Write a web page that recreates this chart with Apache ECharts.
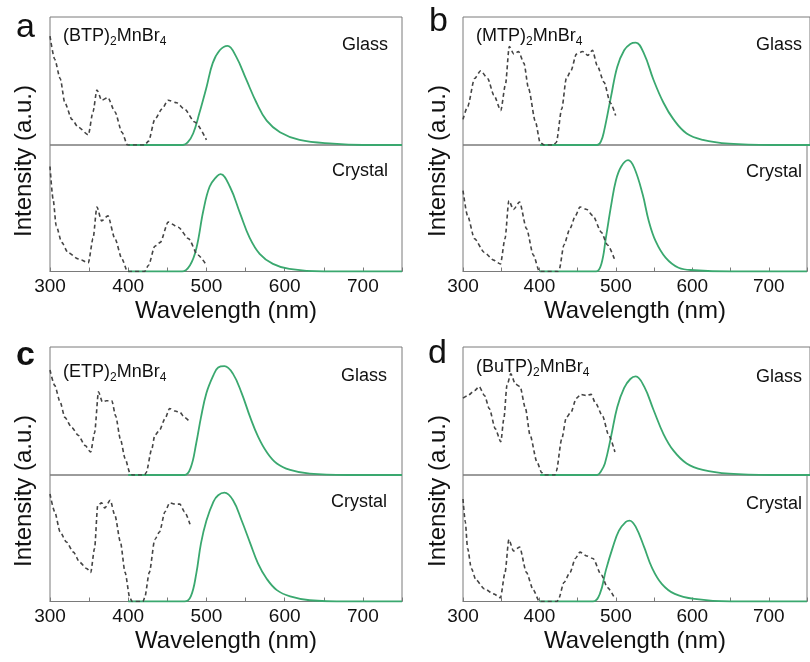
<!DOCTYPE html>
<html>
<head>
<meta charset="utf-8">
<script src="https://cdn.jsdelivr.net/npm/echarts@6/dist/echarts.min.js"></script>
<style>
  html, body { margin: 0; padding: 0; background: #fff; overflow: hidden; }
  #main { width: 810px; height: 662px; }
</style>
</head>
<body>
<div id="main"></div>
<script>
// wavelength (nm) / normalised intensity
// excitation (dashed) and emission (green) for every sample

// a: (BTP)2MnBr4
const aGlassPLE = [[300,.85],[306,.67],[313,.52],[319,.33],[328,.20],[336,.14],[349,.08],[355,.26],[360,.43],[366,.35],[374,.37],[383,.26],[392,.10],[399,0],[421,0],[426,.03],[434,.20],[443,.28],[451,.35],[462,.33],[472,.28],[485,.18],[500,.04]]
const aGlassPL = [[400,0],[470,0],[476,.02],[483,.09],[491,.25],[500,.45],[508,.64],[517,.74],[527,.775],[538,.69],[551,.51],[564,.33],[577,.19],[594,.10],[619,.04],[662,.01],[700,0],[750,0]]
const aCrystalPLE = [[300,.83],[304,.57],[308,.36],[315,.23],[323,.15],[336,.10],[349,.07],[355,.26],[360,.51],[366,.40],[374,.44],[383,.26],[392,.10],[399,0],[421,0],[426,.05],[434,.20],[441,.23],[451,.39],[464,.35],[477,.26],[489,.13],[500,.05]]
const aCrystalPL = [[400,0],[469,0],[479,.05],[487,.18],[496,.48],[504,.67],[513,.75],[518,.77],[530,.67],[543,.46],[555,.27],[568,.14],[585,.06],[606,.02],[650,0],[750,0]]

// b: (MTP)2MnBr4
const bGlassPLE = [[300,.20],[306,.30],[315,.52],[323,.58],[332,.52],[340,.39],[349,.27],[355,.47],[360,.77],[366,.71],[372,.73],[379,.64],[385,.44],[394,.18],[400,.02],[405,0],[417,0],[421,.02],[428,.28],[434,.52],[440,.58],[447,.71],[455,.73],[462,.70],[468,.74],[474,.62],[483,.49],[491,.33],[498,.23]]
const bGlassPL = [[400,0],[474,0],[479,.03],[483,.11],[492,.38],[500,.61],[509,.74],[517,.79],[524,.80],[535,.71],[547,.51],[560,.33],[573,.20],[590,.09],[611,.04],[645,.01],[700,0],[750,0]]
const bCrystalPLE = [[300,.64],[306,.44],[315,.26],[328,.15],[340,.09],[349,.06],[355,.26],[360,.56],[366,.49],[374,.55],[383,.34],[392,.13],[400,0],[424,0],[426,.02],[432,.21],[440,.34],[447,.44],[453,.51],[462,.49],[470,.44],[481,.31],[489,.21],[498,.10]]
const bCrystalPL = [[400,0],[474,0],[481,.06],[487,.27],[494,.53],[500,.72],[507,.83],[516,.88],[524,.82],[535,.61],[543,.40],[552,.24],[565,.11],[582,.03],[603,.01],[650,0],[750,0]]

// c: (ETP)2MnBr4
const cGlassPLE = [[300,.82],[306,.70],[313,.57],[319,.45],[328,.37],[336,.31],[345,.23],[352,.18],[357,.33],[362,.65],[367,.57],[372,.58],[379,.58],[384,.46],[390,.28],[396,.13],[402,.02],[405,0],[421,0],[423,.02],[430,.20],[434,.31],[440,.35],[447,.44],[453,.52],[460,.50],[466,.49],[472,.45],[478,.42]]
const cGlassPL = [[400,0],[472,0],[480,.06],[487,.25],[493,.45],[500,.64],[509,.78],[515,.84],[523,.85],[534,.79],[545,.64],[556,.45],[566,.30],[577,.18],[590,.09],[607,.04],[632,.01],[680,0],[750,0]]
const cCrystalPLE = [[300,.85],[306,.71],[313,.55],[321,.47],[330,.39],[338,.31],[347,.26],[352,.23],[357,.42],[361,.76],[366,.78],[370,.74],[377,.80],[383,.68],[390,.47],[396,.23],[402,.03],[405,0],[419,0],[421,.03],[427,.23],[434,.49],[440,.55],[447,.71],[453,.78],[460,.77],[466,.77],[472,.71],[479,.61]]
const cCrystalPL = [[400,0],[472,0],[480,.04],[487,.22],[493,.46],[500,.64],[509,.79],[515,.84],[523,.86],[534,.80],[545,.64],[556,.46],[566,.30],[577,.18],[590,.09],[607,.04],[632,.01],[680,0],[750,0]]

// d: (BuTP)2MnBr4
const dGlassPLE = [[300,.60],[306,.62],[315,.66],[321,.69],[328,.62],[334,.52],[342,.36],[349,.26],[353,.44],[357,.70],[362,.79],[368,.71],[374,.69],[381,.52],[387,.31],[396,.10],[402,.02],[405,0],[419,0],[421,.03],[428,.28],[434,.45],[440,.49],[447,.60],[453,.63],[460,.62],[466,.63],[472,.56],[481,.46],[489,.31],[497,.18]]
const dGlassPL = [[400,0],[474,0],[479,.03],[484,.09],[492,.30],[500,.53],[509,.68],[517,.75],[524,.77],[535,.69],[547,.51],[560,.32],[573,.19],[590,.09],[611,.04],[645,.01],[700,0],[750,0]]
const dCrystalPLE = [[300,.81],[303,.63],[306,.42],[311,.26],[317,.17],[328,.10],[340,.06],[349,.03],[355,.23],[360,.49],[366,.40],[374,.43],[383,.23],[392,.09],[400,0],[423,0],[425,.02],[432,.15],[440,.23],[447,.34],[453,.39],[462,.36],[470,.34],[481,.21],[489,.11],[498,.03]]
const dCrystalPL = [[400,0],[470,0],[479,.06],[487,.25],[496,.43],[504,.56],[513,.63],[518,.64],[526,.59],[537,.43],[547,.27],[560,.14],[577,.06],[603,.02],[650,0],[750,0]]

const sampleNames = ['BTP', 'MTP', 'ETP', 'BuTP']
const panelLetters = ['a', 'b', 'c', 'd']
const phaseNames = ['Glass', 'Crystal']
const wlMin = 300, wlMax = 750

const FONT = '"Liberation Sans", Arial, sans-serif'
const FRAME = '#7a7a7a'
const GREEN = '#3aa86f'
const DASH = '#444'

// layout of the four panels (pixels)
const panels = [
    { left: 50,  top: 17,  ple: [aGlassPLE, aCrystalPLE], pl: [aGlassPL, aCrystalPL] },
    { left: 463, top: 17,  ple: [bGlassPLE, bCrystalPLE], pl: [bGlassPL, bCrystalPL] },
    { left: 50,  top: 347, ple: [cGlassPLE, cCrystalPLE], pl: [cGlassPL, cCrystalPL] },
    { left: 463, top: 347, ple: [dGlassPLE, dCrystalPLE], pl: [dGlassPL, dCrystalPL] },
]
const plotW = 352, upperH = 128, lowerH = 126.5

let grid = [], xAxis = [], yAxis = [], series = [], graphic = []

panels.forEach((p, i) => {
    for (let k = 0; k < 2; k++) {
        const idx = grid.length
        const isLower = k === 1
        grid.push({
            left: p.left, width: plotW,
            top: isLower ? p.top + upperH : p.top,
            height: isLower ? lowerH : upperH,
            show: true, borderColor: FRAME, borderWidth: 1, backgroundColor: 'transparent'
        })
        xAxis.push({
            type: 'value', gridIndex: idx, min: wlMin, max: wlMax, interval: 50,
            name: isLower ? 'Wavelength (nm)' : '',
            nameLocation: 'middle', nameGap: 28,
            nameTextStyle: { fontSize: 24, color: '#111', fontFamily: FONT },
            axisLine: { show: isLower, lineStyle: { color: FRAME, width: 1 } },
            axisTick: { show: isLower, inside: true, length: 4, lineStyle: { color: FRAME } },
            axisLabel: {
                show: isLower, margin: 6, fontSize: 19, color: '#111', fontFamily: FONT,
                formatter: v => (v % 100 === 0 ? String(v) : '')
            },
            splitLine: { show: false }
        })
        yAxis.push({
            type: 'value', gridIndex: idx, min: 0, max: 1,
            axisLine: { show: false }, axisTick: { show: false },
            axisLabel: { show: false }, splitLine: { show: false }
        })
        series.push({
            type: 'line', xAxisIndex: idx, yAxisIndex: idx, data: p.pl[k],
            smooth: 0.4, showSymbol: false, z: 3,
            lineStyle: { color: GREEN, width: 1.8 }
        })
        series.push({
            type: 'line', xAxisIndex: idx, yAxisIndex: idx, data: p.ple[k],
            smooth: 0.25, smoothMonotone: 'x', showSymbol: false, z: 4,
            lineStyle: { color: DASH, width: 1.6, type: [4, 3] }
        })
    }
})

// texts: panel letters, sample names, phase labels, y titles
const letterPos = [[16, 28], [429, 22], [16, 356], [428, 354]]
const namePos = [[63, 36], [476, 36], [63, 372], [476, 367]]
const glassPos = [[388, 45], [802, 45], [387, 376], [802, 377]]
const crystalPos = [[388, 171], [802, 172], [387, 502], [802, 504]]
const yTitlePos = [[24, 161], [438, 161], [24, 491], [438, 491]]

panels.forEach((p, i) => {
    graphic.push({
        type: 'text', x: letterPos[i][0], y: letterPos[i][1],
        style: { text: panelLetters[i], fontSize: 34, fontWeight: i === 2 ? 'bold' : 'normal',
                 fontFamily: FONT, fill: '#111', align: 'left', verticalAlign: 'middle' }
    })
    graphic.push({
        type: 'text', x: namePos[i][0], y: namePos[i][1],
        style: {
            text: `{n|(${sampleNames[i]})}{s|2}{n|MnBr}{s|4}`,
            align: 'left', verticalAlign: 'middle',
            rich: {
                n: { fontSize: 18, fontFamily: FONT, fill: '#111' },
                s: { fontSize: 12, fontFamily: FONT, fill: '#111', padding: [12, 0, 0, 0] }
            }
        }
    })
    graphic.push({
        type: 'text', x: glassPos[i][0], y: glassPos[i][1],
        style: { text: phaseNames[0], fontSize: 18, fontFamily: FONT, fill: '#111',
                 align: 'right', verticalAlign: 'middle' }
    })
    graphic.push({
        type: 'text', x: crystalPos[i][0], y: crystalPos[i][1],
        style: { text: phaseNames[1], fontSize: 18, fontFamily: FONT, fill: '#111',
                 align: 'right', verticalAlign: 'middle' }
    })
    graphic.push({
        type: 'text', x: yTitlePos[i][0], y: yTitlePos[i][1], rotation: Math.PI / 2,
        style: { text: 'Intensity (a.u.)', fontSize: 24, fontFamily: FONT, fill: '#111',
                 align: 'center', verticalAlign: 'middle' }
    })
})

const chart = echarts.init(document.getElementById('main'))
chart.setOption({
    animation: false,
    backgroundColor: '#fff',
    grid, xAxis, yAxis, series, graphic
})
</script>
</body>
</html>
